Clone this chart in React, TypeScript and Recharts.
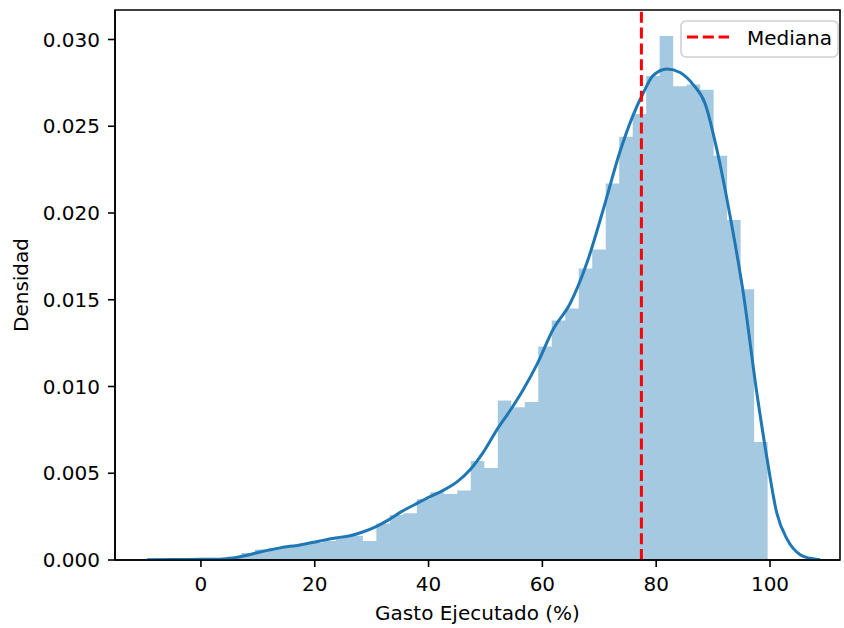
import React from 'react';
import {
  ComposedChart,
  Area,
  Line,
  XAxis,
  YAxis,
  ReferenceLine,
  ReferenceArea,
} from 'recharts';

// histogram: 42 bins starting at 0
const binStart = 0;
const binWidth = 2.371;
const histDensity = [
  0.00005, 0.00008, 0.0002, 0.0004, 0.0006, 0.0007, 0.0008, 0.0009, 0.001, 0.0011,
  0.0013, 0.0014, 0.0011, 0.0021, 0.0026, 0.0027, 0.0035, 0.0039, 0.0038, 0.004,
  0.0057, 0.0053, 0.0092, 0.0088, 0.0091, 0.0123, 0.0138, 0.0145, 0.0168, 0.0179,
  0.0217, 0.0244, 0.0257, 0.0279, 0.0302, 0.0273, 0.0274, 0.0271, 0.0233, 0.0196,
  0.0156, 0.0068,
];

// kde curve
const kdeX = [
  -9.5, -4.6, 0, 3.3, 5.4, 7.7, 10.4, 13.9, 17.4, 20.9, 23.6, 26.2, 28.3, 30.6, 32.9,
  35.3, 37.6, 39.9, 42.5, 45.0, 47.3, 49.6, 52.0, 54.3, 56.6, 59.1, 61.9, 64.9, 67.8,
  70.7, 73.6, 75.9, 77.7, 79.4, 81.9, 84.2, 86.5, 88.6, 90.7, 93.0, 95.3, 97.7, 99.5,
  101.2, 103.0, 105.3, 107.0, 108.8,
];
const kdeDensity = [
  0.00002, 0.00003, 0.00004, 0.00005, 0.0001, 0.00025, 0.00046, 0.0007, 0.00087, 0.0011,
  0.00127, 0.0014, 0.0016, 0.0019, 0.0023, 0.0028, 0.0032, 0.0036, 0.004, 0.0045, 0.0052,
  0.0062, 0.0075, 0.0086, 0.0098, 0.0113, 0.0133, 0.0148, 0.0171, 0.0202, 0.0235, 0.0256,
  0.0269, 0.0279, 0.0283, 0.0281, 0.0274, 0.0263, 0.0236, 0.0198, 0.0154, 0.0096, 0.0058,
  0.0027, 0.0012, 0.0003, 0.0001, 0.00002,
];

const medianValue = 77.4;
const xTicks = [0, 20, 40, 60, 80, 100];
const yTicks = [0, 0.005, 0.01, 0.015, 0.02, 0.025, 0.03];
const xDomain = [-15.1, 112.3];
const yDomain = [0, 0.0317];

const histPoints = [
  ...histDensity.map((d, i) => ({ x: binStart + i * binWidth, hist: d })),
  { x: binStart + histDensity.length * binWidth, hist: 0 },
];
const kdePoints = kdeX.map((x, i) => ({ x, kde: kdeDensity[i] }));
const chartData = [...histPoints, ...kdePoints].sort((a, b) => a.x - b.x);

const font = { fontFamily: 'DejaVu Sans', fontSize: 20, fill: '#000' };

const App: React.FC = () => {
  return (
    <div style={{ position: 'absolute', left: 0, top: 0, width: 844, height: 628 }}>
      <ComposedChart
        width={844}
        height={628}
        data={chartData}
        margin={{ top: 10, right: 4, bottom: 0, left: 0 }}
      >
        <XAxis
          dataKey="x"
          type="number"
          domain={xDomain}
          allowDataOverflow
          ticks={xTicks}
          tick={font}
          tickSize={7}
          tickMargin={10}
          height={68}
          stroke="#000"
          strokeWidth={1.6}
          label={{ value: 'Gasto Ejecutado (%)', position: 'insideBottom', offset: 8, style: font }}
        />
        <YAxis
          type="number"
          domain={yDomain}
          allowDataOverflow
          ticks={yTicks}
          tickFormatter={(v: number) => v.toFixed(3)}
          tick={font}
          tickSize={7}
          tickMargin={8}
          width={115}
          stroke="#000"
          strokeWidth={1.6}
          label={{
            value: 'Densidad',
            angle: -90,
            position: 'insideLeft',
            offset: 21,
            style: { ...font, textAnchor: 'middle' },
          }}
        />
        <Area
          dataKey="hist"
          type="stepAfter"
          fill="#1f77b4"
          fillOpacity={0.4}
          stroke="none"
          connectNulls
          isAnimationActive={false}
        />
        <Line
          dataKey="kde"
          type="monotone"
          stroke="#1f77b4"
          strokeWidth={3}
          dot={false}
          connectNulls
          isAnimationActive={false}
        />
        <ReferenceLine x={medianValue} stroke="#ff0000" strokeWidth={3} strokeDasharray="11 4.8" />
        <ReferenceArea
          x1={xDomain[0]}
          x2={xDomain[1]}
          y1={yDomain[0]}
          y2={yDomain[1]}
          fill="none"
          stroke="#000"
          strokeWidth={1.6}
        />
      </ComposedChart>
      <svg
        width={162}
        height={42}
        style={{ position: 'absolute', left: 679, top: 19 }}
      >
        <rect
          x={2}
          y={2}
          width={157}
          height={36}
          rx={5}
          fill="rgba(255,255,255,0.8)"
          stroke="#d0d0d0"
          strokeWidth={1.6}
        />
        <line x1={8} x2={50} y1={18} y2={18} stroke="#ff0000" strokeWidth={3} strokeDasharray="11 4.8" />
        <text x={68} y={26} fontFamily="DejaVu Sans" fontSize={20} fill="#000">
          Mediana
        </text>
      </svg>
    </div>
  );
};

export default App;
